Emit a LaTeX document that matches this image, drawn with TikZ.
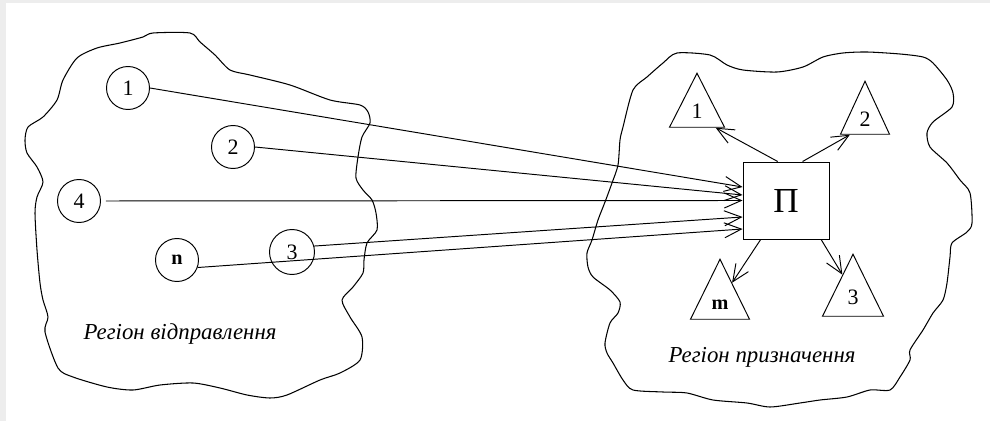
\documentclass[tikz,border=0pt]{standalone}
\usepackage{fontspec}
\setmainfont{Liberation Serif}
\usetikzlibrary{arrows.meta,shapes.geometric,calc}

\begin{document}
\begin{tikzpicture}[
    x=0.2mm, y=-0.2mm,
    >={Straight Barb[length=3.4mm,width=3mm]},
    line width=0.55pt,
    every node/.style={font=\fontsize{12.5}{14}\selectfont},
    site/.style={circle, draw, minimum size=8.6mm, inner sep=0pt},
    hub/.style={rectangle, draw, minimum width=17.2mm, minimum height=15.4mm, font=\fontsize{20}{22}\selectfont},
    sink/.style={isosceles triangle, isosceles triangle stretches, shape border rotate=90, draw, inner sep=0pt, anchor=apex},
    area/.style={draw, line width=0.6pt, line join=round},
    caption/.style={font=\fontsize{13}{15}\selectfont\itshape, anchor=base}
]

\fill[black!7] (0,0) rectangle (990,421);
\fill[white] (6,3) rectangle (990,421);

% departure region
\draw[area] plot[smooth cycle, tension=0.45] coordinates {
  (153,33) (190,33) (200,42) (215,55) (230,70) (250,75) (290,85) (330,100)
  (360,105) (368,112) (370,123) (362,137) (358,157) (356,178) (363,190)
  (372,200) (376,213) (377,230) (367,243) (364,260) (363,273) (353,287)
  (342,300) (350,317) (362,337) (360,360) (340,373) (320,380) (287,395)
  (270,398) (247,395) (220,388) (193,383) (160,385) (133,390) (107,387)
  (73,377) (58,368) (45,332) (48,317) (43,300) (40,283) (37,250) (35,213)
  (37,197) (43,182) (37,167) (27,153) (25,140) (28,127) (43,117) (57,100)
  (63,80) (77,58) (97,48) (120,43) (143,37)};

% destination region
\draw[area] plot[smooth cycle, tension=0.45] coordinates {
  (677,53) (710,55) (727,65) (743,70) (777,72) (803,67) (823,57) (843,53)
  (867,52) (900,54) (923,57) (933,63) (947,80) (953,93) (952,107) (933,122)
  (927,133) (930,147) (947,163) (960,180) (970,193) (972,223) (967,232)
  (952,243) (950,257) (947,283) (943,300) (933,313) (923,330) (910,350)
  (910,360) (900,377) (890,390) (870,390) (847,397) (820,400) (800,403)
  (770,407) (747,403) (713,400) (687,393) (663,392) (633,390) (623,380)
  (613,363) (607,353) (605,343) (610,323) (618,313) (620,302) (610,290)
  (593,277) (588,267) (587,253) (592,240) (598,220) (605,202) (612,183)
  (618,165) (620,140) (623,127) (633,90) (647,77) (663,63)};

\node[site] (c1) at (128,88) {1};
\node[site] (c2) at (233,147) {2};
\node[site] (c4) at (79,201) {4};
\node[site, font=\fontsize{11.5}{13}\selectfont\bfseries] (cn) at (177,260) {n};
\node[site, minimum size=9mm] (c3) at (292,252) {3};

\node[hub] (hub) at (786,200.5) {П};

\node[sink, minimum width=11mm, minimum height=10.8mm] (t1) at (697,72) {1};
\node[sink, minimum width=9.8mm, minimum height=10.6mm] (t2) at (865,80) {2};
\node[sink, minimum width=11.8mm, minimum height=12mm, font=\fontsize{11.5}{13}\selectfont\bfseries] (tm) at (720,258) {m};
\node[sink, minimum width=12.2mm, minimum height=12.4mm] (t3) at (853,253) {3};

\node[caption] (srclbl) at (180,340) {Регіон відправлення};
\node[caption] (dstlbl) at (762,362) {Регіон призначення};

\draw[->] (c1.east) -- ([yshift=2.7mm]hub.west);
\draw[->] (c2.east) -- ([yshift=1.1mm]hub.west);
\draw[->, shorten <=1mm] (c4.east) -- (hub.west);
\draw[->] (c3.15) -- ([yshift=-3.3mm]hub.west);
\draw[->] (cn.-20) -- ([yshift=-5.7mm]hub.west);

\draw[->] (hub.102) -- ($(t1.left corner)!0.83!(t1.right corner)$);
\draw[->] (hub.67) -- ($(t2.left corner)!0.2!(t2.right corner)$);
\draw[->] (hub.-123) -- ($(tm.apex)!0.4!(tm.right corner)$);
\draw[->] (hub.-48) -- ($(t3.apex)!0.34!(t3.left corner)$);

\end{tikzpicture}
\end{document}
